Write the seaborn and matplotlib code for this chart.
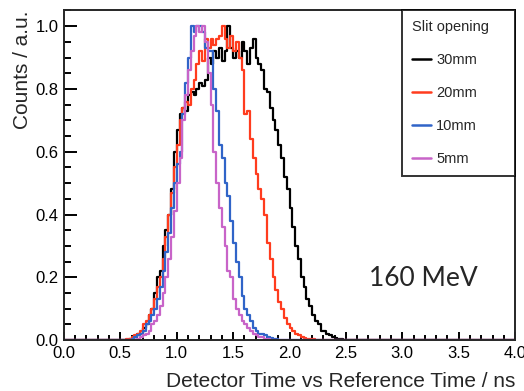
import numpy as np
import pandas as pd
import matplotlib
matplotlib.use("Agg")
import matplotlib.pyplot as plt
from matplotlib.ticker import MultipleLocator, FormatStrFormatter
import seaborn as sns

# histogram binning (ns)
BIN_WIDTH = 0.025
T_MIN, T_MAX = 0.0, 4.0

# normalised counts, one value per bin, starting at the given time
start_30mm = 0.575
counts_30mm = [0.005, 0.005, 0.01, 0.02, 0.02, 0.04, 0.05, 0.08, 0.10, 0.15,
               0.20, 0.22, 0.30, 0.35, 0.40, 0.48, 0.60, 0.67, 0.72, 0.74,
               0.73, 0.78, 0.79, 0.78, 0.80, 0.82, 0.81, 0.83, 0.90, 0.88,
               0.92, 0.90, 0.93, 0.89, 0.92, 1.00, 0.93, 0.90, 0.92, 0.90,
               0.95, 0.92, 0.88, 0.93, 0.96, 0.90, 0.88, 0.86, 0.80, 0.79,
               0.74, 0.70, 0.67, 0.62, 0.58, 0.52, 0.48, 0.42, 0.36, 0.30,
               0.26, 0.20, 0.17, 0.13, 0.11, 0.08, 0.06, 0.05, 0.03, 0.03,
               0.02, 0.015, 0.01, 0.008, 0.005, 0.003]

start_20mm = 0.55
counts_20mm = [0.005, 0.005, 0.01, 0.015, 0.02, 0.03, 0.05, 0.06, 0.08, 0.10,
               0.13, 0.17, 0.20, 0.26, 0.33, 0.40, 0.47, 0.55, 0.62, 0.70,
               0.74, 0.76, 0.75, 0.80, 0.83, 0.88, 0.92, 0.89, 0.96, 0.93,
               0.96, 0.94, 0.96, 0.97, 1.00, 0.96, 0.93, 0.97, 0.92, 0.95,
               0.90, 0.86, 0.72, 0.73, 0.64, 0.58, 0.53, 0.48, 0.45, 0.40,
               0.31, 0.26, 0.20, 0.16, 0.12, 0.10, 0.07, 0.05, 0.04, 0.03,
               0.02, 0.015, 0.01, 0.008, 0.005, 0.004, 0.003]

start_10mm = 0.60
counts_10mm = [0.005, 0.01, 0.015, 0.02, 0.03, 0.05, 0.06, 0.08, 0.10, 0.13,
               0.17, 0.22, 0.28, 0.34, 0.42, 0.50, 0.56, 0.60, 0.72, 0.82,
               0.90, 1.00, 0.98, 1.00, 1.00, 0.98, 0.93, 0.92, 0.92, 0.80,
               0.73, 0.62, 0.58, 0.50, 0.46, 0.38, 0.31, 0.25, 0.20, 0.14,
               0.10, 0.08, 0.06, 0.04, 0.03, 0.02, 0.02, 0.015, 0.01, 0.008,
               0.005, 0.003]

start_5mm = 0.65
counts_5mm = [0.005, 0.01, 0.015, 0.02, 0.03, 0.05, 0.06, 0.08, 0.11, 0.15,
              0.20, 0.26, 0.33, 0.41, 0.50, 0.58, 0.70, 0.78, 0.86, 0.92,
              0.97, 1.00, 0.98, 1.00, 0.95, 0.85, 0.75, 0.60, 0.50, 0.42,
              0.36, 0.30, 0.22, 0.20, 0.13, 0.10, 0.08, 0.06, 0.05, 0.04,
              0.03, 0.02, 0.015, 0.01, 0.01, 0.005, 0.003]

series = [("30mm", start_30mm, counts_30mm, "#000000"),
          ("20mm", start_20mm, counts_20mm, "#ff3c1e"),
          ("10mm", start_10mm, counts_10mm, "#3064c8"),
          ("5mm", start_5mm, counts_5mm, "#c864c8")]

edges = np.round(np.arange(T_MIN, T_MAX + BIN_WIDTH / 2, BIN_WIDTH), 4)
centers = edges[:-1] + BIN_WIDTH / 2

sns.set_style("ticks")
plt.rcParams["font.family"] = ["Liberation Sans", "DejaVu Sans"]
plt.rcParams["axes.linewidth"] = 1.4

fig = plt.figure(figsize=(5.24, 3.91), dpi=100)
ax = fig.add_axes([0.122, 0.130, 0.861, 0.844])

for label, start, counts, color in series:
    w = np.zeros(len(centers))
    i0 = int(round((start - T_MIN) / BIN_WIDTH))
    w[i0:i0 + len(counts)] = counts
    d = pd.DataFrame({"t": centers, "w": w})
    sns.histplot(data=d, x="t", weights="w", bins=edges.tolist(), element="step",
                 fill=False, color=color, linewidth=1.6, label=label, ax=ax)

ax.set_xlim(0, 4)
ax.set_ylim(0, 1.051)
ax.xaxis.set_major_locator(MultipleLocator(0.5))
ax.xaxis.set_minor_locator(MultipleLocator(0.1))
ax.yaxis.set_major_locator(MultipleLocator(0.2))
ax.yaxis.set_minor_locator(MultipleLocator(0.05))
ax.tick_params(which="both", direction="in", top=False, right=False,
               labelsize=12, width=1.4, colors="black")
ax.tick_params(axis="x", which="major", length=6, pad=4)
ax.tick_params(axis="x", which="minor", length=3.5)
ax.tick_params(axis="y", which="major", length=9.5, pad=4)
ax.tick_params(axis="y", which="minor", length=5)
ax.xaxis.set_major_formatter(FormatStrFormatter("%.1f"))
ax.yaxis.set_major_formatter(FormatStrFormatter("%.1f"))

ax.set_xlabel("Detector Time vs Reference Time / ns", fontsize=15,
              loc="right", labelpad=8)
ax.set_ylabel("Counts / a.u.", fontsize=15, loc="top", labelpad=2)

leg = ax.legend(title="Slit opening", loc="upper left",
                bbox_to_anchor=(0.749, 0.5, 0.251, 0.5), mode="expand",
                borderaxespad=0, fontsize=10.5, title_fontsize=10.5,
                frameon=True, fancybox=False, edgecolor="black",
                handlelength=1.3, handletextpad=0.35, labelspacing=1.3,
                borderpad=0.7)
leg._legend_box.align = "left"
leg.get_frame().set_linewidth(1.4)
for h in leg.legend_handles:
    h.set_linewidth(1.8)

ax.text(3.19, 0.197, "160 MeV", fontsize=19, family=["Lato", "DejaVu Sans"],
        ha="center", va="center")

fig.savefig("out.png", dpi=100)
